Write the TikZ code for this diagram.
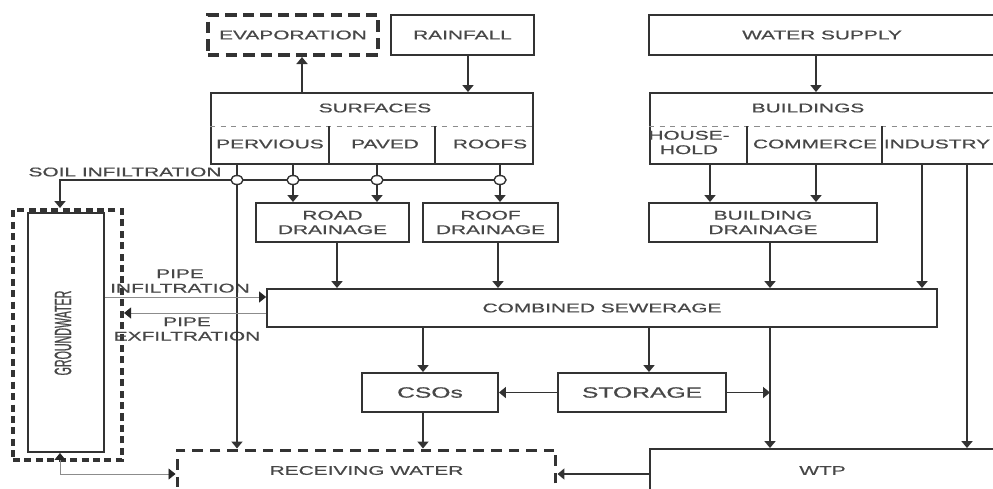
\documentclass[tikz,border=0pt]{standalone}
\usepackage{fontspec}
\setmainfont{Liberation Sans}
\newfontfamily\wfont{Liberation Sans}[FakeStretch=1.65,FakeBold=0.6]
\newfontfamily\gfont{Liberation Sans}[FakeStretch=0.45,FakeBold=0.6]
\usetikzlibrary{arrows.meta,calc}
\begin{document}
\begin{tikzpicture}[x=0.02cm,y=-0.02cm,
  line/.style={draw=black!80, line width=1.1pt},
  txt/.style={font=\wfont\fontsize{7.2}{8.2}\selectfont, text=black!72, align=center},
  box/.style={draw=black!80, line width=1.1pt, rectangle, inner sep=0pt, txt},
  dbox/.style={box, line width=2.3pt, dash pattern=on 6.5pt off 3.5pt},
  lbl/.style={inner sep=0pt, txt},
  arr/.style={line, -{Triangle[length=1.4mm,width=2.2mm]}},
  thinarr/.style={draw=black!45, line width=0.5pt, -{Triangle[length=1.4mm,width=2.2mm,color=black!85]}},
  thinboth/.style={draw=black!45, line width=0.5pt, {Triangle[length=1.4mm,width=2.2mm,color=black!85]}-{Triangle[length=1.4mm,width=2.2mm,color=black!85]}}]
\useasboundingbox (0,0) rectangle (993,488);
\fill[white] (0,0) rectangle (993,488);
\clip (0,0) rectangle (993,488);

% top row
\node[dbox, minimum width=3.4cm, minimum height=0.8cm] (evap) at (293,35) {EVAPORATION};
\node[box, minimum width=2.86cm, minimum height=0.8cm] (rain) at (462.5,35) {RAINFALL};
\node[box, minimum width=6.92cm, minimum height=0.8cm] (wsup) at (822,35) {WATER SUPPLY};

% surfaces / buildings
\node[box, minimum width=6.44cm, minimum height=1.42cm] (surf) at (372,128.5) {};
\node[box, minimum width=6.9cm, minimum height=1.42cm] (bldg) at (822.5,128.5) {};
\node[lbl] (tsurf) at (375,108) {SURFACES};
\node[lbl] (tperv) at (270,144) {PERVIOUS};
\node[lbl] (tpav) at (385,144) {PAVED};
\node[lbl] (troof) at (490,144) {ROOFS};
\node[lbl] (tbldg) at (808,108) {BUILDINGS};
\node[lbl] (thh) at (689,142.5) {HOUSE-\\HOLD};
\node[lbl] (tcom) at (815,144) {COMMERCE};
\node[lbl] (tind) at (937,144) {INDUSTRY};

\coordinate (dl) at (0,126);
\coordinate (d1) at (329,0);
\coordinate (d2) at (435,0);
\coordinate (d3) at (747,0);
\coordinate (d4) at (882,0);
\draw[black!45, dashed, line width=0.5pt] (surf.west |- dl) -- (surf.east |- dl);
\draw[black!45, dashed, line width=0.5pt] (bldg.west |- dl) -- (bldg.east |- dl);
\draw[line] (dl -| d1) -- (surf.south -| d1);
\draw[line] (dl -| d2) -- (surf.south -| d2);
\draw[line] (dl -| d3) -- (bldg.south -| d3);
\draw[line] (dl -| d4) -- (bldg.south -| d4);

% drainage row
\node[box, minimum width=3.06cm, minimum height=0.78cm] (road) at (332.5,222.5) {ROAD\\DRAINAGE};
\node[box, minimum width=2.7cm, minimum height=0.78cm] (roof) at (490.5,222.5) {ROOF\\DRAINAGE};
\node[box, minimum width=4.56cm, minimum height=0.78cm] (bdr) at (763,222.5) {BUILDING\\DRAINAGE};

% combined sewerage
\node[box, minimum width=13.4cm, minimum height=0.76cm] (comb) at (602,308) {COMBINED SEWERAGE};

% CSOs, storage
\node[box, minimum width=2.72cm, minimum height=0.78cm] (cso) at (430,392.5) {\fontsize{8.5}{9}\selectfont CSOs};
\node[box, minimum width=3.36cm, minimum height=0.78cm] (stor) at (642,392.5) {\fontsize{8.5}{9}\selectfont STORAGE};

% bottom
\node[box, line width=1.7pt, dash pattern=on 6pt off 4pt, minimum width=7.58cm, minimum height=0.82cm] (recv) at (366.5,470.5) {RECEIVING WATER};
\node[box, minimum width=6.9cm, minimum height=0.86cm] (wtp) at (822.5,470.5) {WTP};

% groundwater
\node[box, line width=2.3pt, dash pattern=on 4pt off 2.5pt, minimum width=2.18cm, minimum height=5cm] (gwo) at (67.5,335) {};
\node[box, minimum width=1.52cm, minimum height=4.78cm] (gw) at (66,332.5) {};
\node[rotate=90, inner sep=0pt, font=\gfont\fontsize{13.5}{14}\selectfont, text=black!72] (gwt) at (63,333) {GROUNDWATER};

% labels
\node[lbl] (tsoil) at (125,172) {SOIL INFILTRATION};
\node[lbl] (tpin) at (180,281) {PIPE\\INFILTRATION};
\node[lbl] (tpex) at (187,329) {PIPE\\EXFILTRATION};

% coordinates
\coordinate (xE) at (302,0);
\coordinate (xR) at (468,0);
\coordinate (xW) at (816,0);
\coordinate (j1) at (237,180);
\coordinate (j2) at (293,180);
\coordinate (j3) at (377,180);
\coordinate (j4) at (500,180);
\coordinate (jL) at (60,180);
\coordinate (xRD) at (337,0);
\coordinate (xRF) at (498,0);
\coordinate (xH) at (710,0);
\coordinate (xBD) at (770,0);
\coordinate (xI1) at (922,0);
\coordinate (xI2) at (967,0);
\coordinate (xC) at (423,0);
\coordinate (xS) at (649,0);
\coordinate (pin) at (0,297);
\coordinate (pex) at (0,313);
\coordinate (pb) at (0,474);

% connectors
\draw[arr] (surf.north -| xE) -- (evap.south -| xE);
\draw[arr] (rain.south -| xR) -- (surf.north -| xR);
\draw[arr] (wsup.south -| xW) -- (bldg.north -| xW);

\draw[line] (surf.south -| j1) -- (j1);
\draw[line] (surf.south -| j2) -- (j2);
\draw[line] (surf.south -| j3) -- (j3);
\draw[line] (surf.south -| j4) -- (j4);
\draw[arr] (j1) -- (recv.north -| j1);
\draw[arr] (j2) -- (road.north -| j2);
\draw[arr] (j3) -- (road.north -| j3);
\draw[arr] (j4) -- (roof.north -| j4);
\draw[arr] (j4) -- (jL) -- (gwo.north -| jL);
\foreach \j in {j1,j2,j3,j4}
  \draw[draw=black!80, line width=0.8pt, fill=white] (\j) ellipse [x radius=0.12cm, y radius=0.09cm];

\draw[arr] (road.south -| xRD) -- (comb.north -| xRD);
\draw[arr] (roof.south -| xRF) -- (comb.north -| xRF);
\draw[arr] (bldg.south -| xH) -- (bdr.north -| xH);
\draw[arr] (bldg.south -| xW) -- (bdr.north -| xW);
\draw[arr] (bdr.south -| xBD) -- (comb.north -| xBD);
\draw[arr] (bldg.south -| xI1) -- (comb.north -| xI1);
\draw[arr] (bldg.south -| xI2) -- (wtp.north -| xI2);

\draw[arr] (comb.south -| xC) -- (cso.north -| xC);
\draw[arr] (cso.south -| xC) -- (recv.north -| xC);
\draw[arr] (comb.south -| xS) -- (stor.north -| xS);
\draw[arr] (stor.west) -- (cso.east);
\draw[arr] (comb.south -| xBD) -- (wtp.north -| xBD);
\draw[arr] (stor.east) -- (stor.east -| xBD);
\draw[arr] (wtp.west |- pb) -- (recv.east |- pb);

\draw[thinarr] (gw.east |- pin) -- (comb.west |- pin);
\draw[thinarr] (comb.west |- pex) -- (gwo.east |- pex);
\draw[thinboth] (gw.south -| jL) -- (jL |- pb) -- (recv.west |- pb);
\end{tikzpicture}
\end{document}
